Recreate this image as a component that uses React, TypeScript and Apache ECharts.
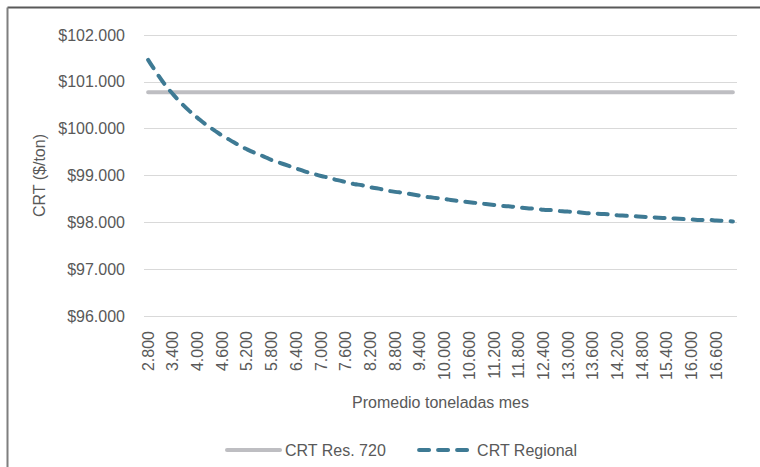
import React, { useEffect, useRef } from "react";
import * as echarts from "echarts";

const categories: number[] = [
  2800, 3000, 3200, 3400, 3600, 3800, 4000, 4200, 4400, 4600, 4800, 5000,
  5200, 5400, 5600, 5800, 6000, 6200, 6400, 6600, 6800, 7000, 7200, 7400,
  7600, 7800, 8000, 8200, 8400, 8600, 8800, 9000, 9200, 9400, 9600, 9800,
  10000, 10200, 10400, 10600, 10800, 11000, 11200, 11400, 11600, 11800, 12000, 12200,
  12400, 12600, 12800, 13000, 13200, 13400, 13600, 13800, 14000, 14200, 14400, 14600,
  14800, 15000, 15200, 15400, 15600, 15800, 16000, 16200, 16400, 16600, 16800, 17000,
];

const crtRes720: number[] = [
  100.78, 100.78, 100.78, 100.78, 100.78, 100.78, 100.78, 100.78, 100.78, 100.78, 100.78, 100.78,
  100.78, 100.78, 100.78, 100.78, 100.78, 100.78, 100.78, 100.78, 100.78, 100.78, 100.78, 100.78,
  100.78, 100.78, 100.78, 100.78, 100.78, 100.78, 100.78, 100.78, 100.78, 100.78, 100.78, 100.78,
  100.78, 100.78, 100.78, 100.78, 100.78, 100.78, 100.78, 100.78, 100.78, 100.78, 100.78, 100.78,
  100.78, 100.78, 100.78, 100.78, 100.78, 100.78, 100.78, 100.78, 100.78, 100.78, 100.78, 100.78,
  100.78, 100.78, 100.78, 100.78, 100.78, 100.78, 100.78, 100.78, 100.78, 100.78, 100.78, 100.78,
];

const crtRegional: number[] = [
  101.47, 101.2, 100.95, 100.74, 100.55, 100.38, 100.23, 100.09, 99.97, 99.85, 99.75, 99.65,
  99.56, 99.48, 99.41, 99.33, 99.27, 99.21, 99.15, 99.09, 99.04, 98.99, 98.95, 98.9,
  98.86, 98.82, 98.79, 98.75, 98.72, 98.68, 98.65, 98.63, 98.6, 98.57, 98.54, 98.52,
  98.5, 98.47, 98.45, 98.43, 98.41, 98.39, 98.37, 98.35, 98.34, 98.32, 98.3, 98.29,
  98.27, 98.26, 98.24, 98.23, 98.22, 98.2, 98.19, 98.18, 98.17, 98.15, 98.14, 98.13,
  98.12, 98.11, 98.1, 98.09, 98.08, 98.07, 98.06, 98.05, 98.05, 98.04, 98.03, 98.02,
];

const seriesNames = ["CRT Res. 720", "CRT Regional"];
const xAxisTitle = "Promedio toneladas mes";
const yAxisTitle = "CRT ($/ton)";

const FONT = "'Liberation Sans', Arial, sans-serif";
const TEXT = "#595959";
const FS = 16;

function fmtThousands(v: number, decimals: number): string {
  const fixed = v.toFixed(decimals);
  const [intPart, dec] = fixed.split(".");
  const withDots = intPart.replace(/\B(?=(\d{3})+(?!\d))/g, ".");
  return dec ? withDots + "," + dec : withDots;
}

export default function App() {
  const ref = useRef<HTMLDivElement>(null);
  useEffect(() => {
    if (!ref.current) return;
    const chart = echarts.init(ref.current, undefined, { renderer: "svg" });
    chart.setOption({
      animation: false,
      backgroundColor: "#ffffff",
      textStyle: { fontFamily: FONT },
      graphic: [
        { type: "line", shape: { x1: 7.5, y1: 7.5, x2: 760, y2: 7.5 }, style: { stroke: "#595959", lineWidth: 2 } },
        { type: "line", shape: { x1: 7.5, y1: 7.5, x2: 7.5, y2: 467 }, style: { stroke: "#7f7f7f", lineWidth: 2 } },
      ],
      grid: { left: 144, right: 23, top: 35, bottom: 151, containLabel: false },
      legend: {
        top: 437,
        left: 220,
        itemWidth: 53,
        itemHeight: 4,
        itemGap: 31,
        itemStyle: { opacity: 0, borderWidth: 0 },
        lineStyle: { width: 4, cap: "round" },
        textStyle: { color: TEXT, fontSize: FS, fontFamily: FONT },
        data: seriesNames,
      },
      xAxis: {
        type: "category",
        data: categories,
        boundaryGap: true,
        name: xAxisTitle,
        nameLocation: "middle",
        nameGap: 78,
        nameTextStyle: { color: TEXT, fontSize: FS, fontFamily: FONT },
        axisLine: { show: false },
        axisTick: { show: false },
        axisLabel: {
          interval: 2,
          rotate: 90,
          margin: 15,
          color: TEXT,
          fontSize: FS,
          fontFamily: FONT,
          formatter: (v: string) => fmtThousands(Number(v), 0),
        },
      },
      yAxis: {
        type: "value",
        min: 96,
        max: 102,
        interval: 1,
        name: yAxisTitle,
        nameLocation: "middle",
        nameGap: 97,
        nameTextStyle: { color: TEXT, fontSize: FS, fontFamily: FONT },
        axisLine: { show: false },
        axisTick: { show: false },
        splitLine: { lineStyle: { color: "#d9d9d9", width: 1 } },
        axisLabel: {
          margin: 19,
          color: TEXT,
          fontSize: FS,
          fontFamily: FONT,
          formatter: (v: number) => "$" + fmtThousands(v * 1000, 0),
        },
      },
      series: [
        {
          name: seriesNames[0],
          type: "line",
          data: crtRes720,
          symbol: "none",
          lineStyle: { color: "#bebec2", width: 4, cap: "round" },
          itemStyle: { color: "#bebec2" },
        },
        {
          name: seriesNames[1],
          type: "line",
          data: crtRegional,
          symbol: "none",
          smooth: true,
          lineStyle: { color: "#3e7a94", width: 4, type: [10, 9], cap: "round" },
          itemStyle: { color: "#3e7a94" },
        },
      ],
    });
    return () => chart.dispose();
  }, []);
  return (
    <div
      ref={ref}
      style={{ position: "absolute", left: 0, top: 0, width: 760, height: 467 }}
    />
  );
}
